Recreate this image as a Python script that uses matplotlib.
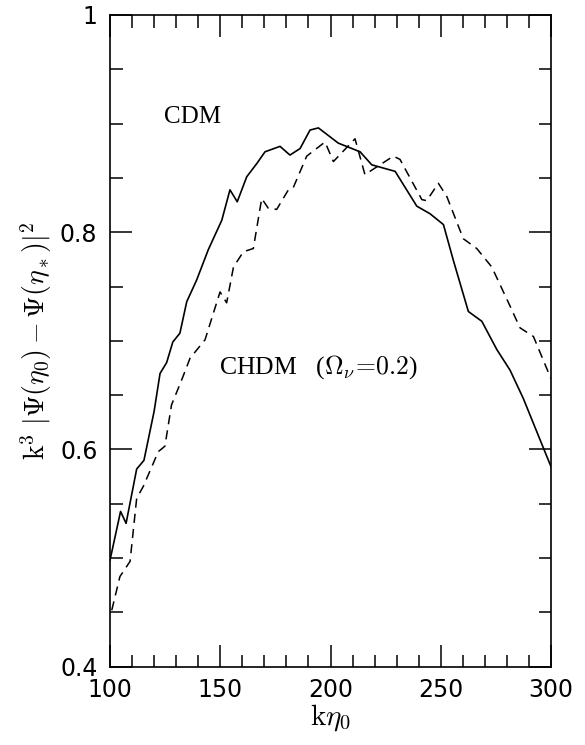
import numpy as np
import matplotlib
matplotlib.use("Agg")
import matplotlib.pyplot as plt
from matplotlib.ticker import MultipleLocator, FuncFormatter

plt.rcParams['mathtext.fontset'] = 'cm'

# CDM (solid)
k_cdm = [100, 104.8, 107.3, 112.1, 115.4, 120, 122.7, 125.7, 128.5, 131.7, 134.8,
         139.3, 144.6, 150.7, 154.4, 157.7, 162, 166.5, 170.3, 177.1, 181.6, 186.2,
         190.7, 194.5, 203.5, 213.4, 218.7, 229.3, 239.1, 245.1, 251.2, 255.7,
         262.5, 268.6, 275.4, 281.4, 287.4, 300]
p_cdm = [0.498, 0.543, 0.532, 0.582, 0.590, 0.635, 0.670, 0.680, 0.699, 0.707, 0.736,
         0.756, 0.784, 0.811, 0.839, 0.828, 0.851, 0.863, 0.874, 0.879, 0.871, 0.877,
         0.894, 0.896, 0.882, 0.874, 0.862, 0.856, 0.824, 0.817, 0.807, 0.774,
         0.727, 0.718, 0.692, 0.673, 0.647, 0.584]

# CHDM Omega_nu=0.2 (dashed)
k_chdm = [100.8, 104.5, 109.1, 112.1, 115.1, 121.9, 124.9, 127.9, 132.5, 136.3, 143.1,
          149.9, 152.9, 156, 160.5, 165, 168.8, 171.8, 175.6, 180.9, 183.1, 189.2,
          197.5, 201.3, 211.1, 215.6, 220.9, 228.5, 231.5, 241.4, 243.6, 248.9,
          252.7, 260.2, 266.3, 273.1, 281.4, 285.9, 292, 300]
p_chdm = [0.452, 0.483, 0.497, 0.555, 0.566, 0.598, 0.603, 0.641, 0.664, 0.684, 0.701,
          0.745, 0.735, 0.768, 0.782, 0.785, 0.831, 0.822, 0.821, 0.839, 0.841, 0.870,
          0.883, 0.865, 0.886, 0.853, 0.860, 0.870, 0.867, 0.830, 0.829, 0.845,
          0.833, 0.794, 0.785, 0.768, 0.732, 0.712, 0.704, 0.665]

fig = plt.figure(figsize=(5.85, 7.45), dpi=100)
ax = fig.add_axes([0.188, 0.105, 0.754, 0.875])

ax.plot(k_cdm, p_cdm, color='k', lw=1.2)
ax.plot(k_chdm, p_chdm, color='k', lw=1.1, dashes=(6, 4))

ax.set_xlim(100, 300)
ax.set_ylim(0.4, 1.0)
ax.xaxis.set_major_locator(MultipleLocator(50))
ax.xaxis.set_minor_locator(MultipleLocator(10))
ax.yaxis.set_major_locator(MultipleLocator(0.2))
ax.yaxis.set_minor_locator(MultipleLocator(0.05))
ax.yaxis.set_major_formatter(FuncFormatter(lambda v, p: f"{v:g}"))
ax.tick_params(which='both', direction='in', top=True, right=True, width=1.1,
               labelsize=17)
ax.tick_params(axis='x', pad=8)
ax.tick_params(axis='y', pad=9)
ax.tick_params(which='major', length=16)
ax.tick_params(which='minor', length=9)
for s in ax.spines.values():
    s.set_linewidth(1.2)

ax.text(124.5, 0.906, 'CDM', family='Liberation Serif', fontsize=18, va='center')
ax.text(149.5, 0.676, r'CHDM   ($\Omega_\nu\!=\!0.2$)', family='Liberation Serif',
        fontsize=18.5, va='center')

ax.set_xlabel(r'$\mathrm{k}\eta_0$', fontsize=21, labelpad=0)
ax.set_ylabel(r'$\mathrm{k}^3\ |\Psi(\eta_0)-\Psi(\eta_*)|^2$', fontsize=20, labelpad=4)

fig.savefig('out.png', dpi=100)
